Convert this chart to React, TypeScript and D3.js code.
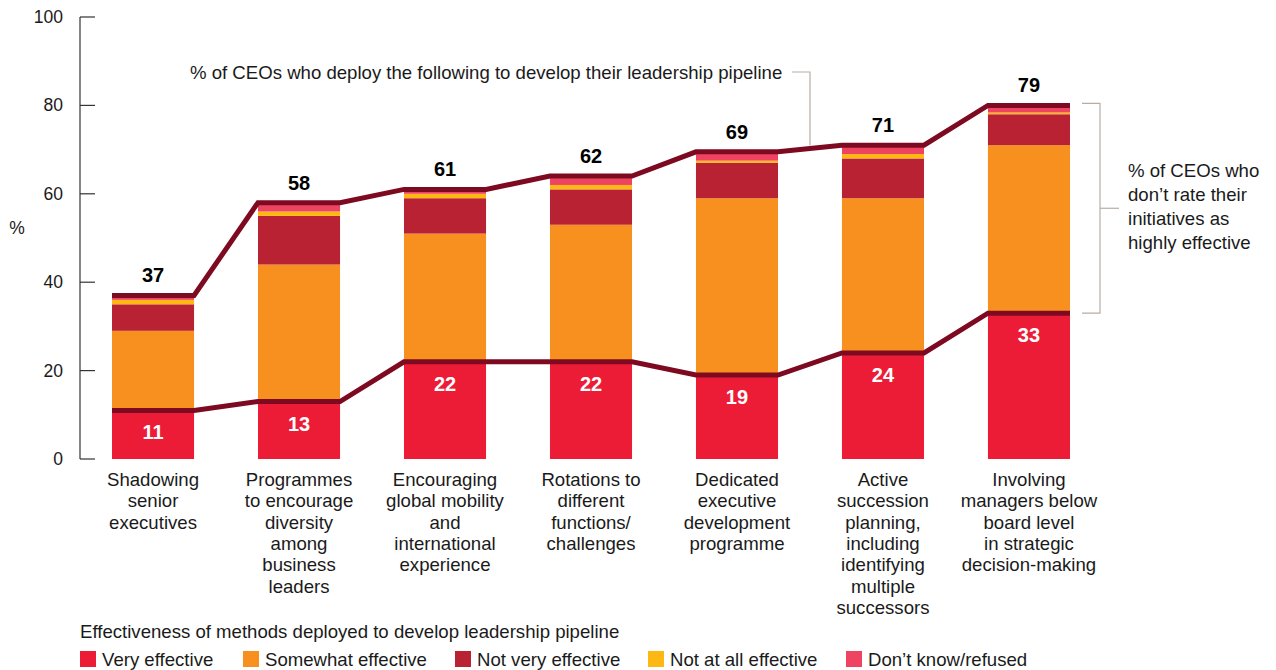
import React from "react";
import * as d3 from "d3";

const categories = [
  ["Shadowing", "senior", "executives"],
  ["Programmes", "to encourage", "diversity", "among", "business", "leaders"],
  ["Encouraging", "global mobility", "and", "international", "experience"],
  ["Rotations to", "different", "functions/", "challenges"],
  ["Dedicated", "executive", "development", "programme"],
  ["Active", "succession", "planning,", "including", "identifying", "multiple", "successors"],
  ["Involving", "managers below", "board level", "in strategic", "decision-making"],
];
const veryEffective = [11, 13, 22, 22, 19, 24, 33];
const somewhatEffective = [18, 31, 29, 31, 40, 35, 38];
const notVeryEffective = [6, 11, 8, 8, 8, 9, 7];
const notAtAllEffective = [1, 1, 1, 1, 0.5, 1, 0.4];
const dontKnow = [1, 2, 1, 2, 2, 2, 1.6];
const totalLabels = [37, 58, 61, 62, 69, 71, 79];
const yTicks = [0, 20, 40, 60, 80, 100];
const seriesKeys = ["very", "somewhat", "notVery", "notAtAll", "dontKnow"];
const seriesNames = ["Very effective", "Somewhat effective", "Not very effective", "Not at all effective", "Don\u2019t know/refused"];
const seriesColors = ["#ED1C36", "#F7901E", "#B82233", "#FDB813", "#EF4461"];

const FONT = "'Liberation Sans', Arial, Helvetica, sans-serif";
const TEXT = "#1a1a1a";
const LINE = "#7E0A21";
const GUIDE = "#B8ADA5";
const FS = 18.6;

export default function App() {
  const rows = categories.map((c, i) => ({
    i,
    very: veryEffective[i],
    somewhat: somewhatEffective[i],
    notVery: notVeryEffective[i],
    notAtAll: notAtAllEffective[i],
    dontKnow: dontKnow[i],
  }));
  const stacked = d3.stack<any>().keys(seriesKeys)(rows);
  const x = d3.scaleBand<number>().domain(d3.range(categories.length)).range([112, 1070]).paddingInner(0.438).paddingOuter(0);
  const y = d3.scaleLinear().domain([0, 100]).range([459, 17]);
  const bw = x.bandwidth();
  const tops = rows.map((_, i) => stacked[stacked.length - 1][i][1]);

  const linePts = (vals: number[]) => {
    const pts: [number, number][] = [];
    vals.forEach((v, i) => {
      pts.push([x(i)!, y(v)]);
      pts.push([x(i)! + bw, y(v)]);
    });
    return d3.line()(pts) || "";
  };

  const gx = (x(4)! + bw + x(5)!) / 2;
  const gy = (y(tops[4]) + y(tops[5])) / 2;
  const bx0 = x(6)! + bw + 12;
  const bx1 = bx0 + 18;
  const bTop = y(tops[6]) - 2;
  const bBot = y(veryEffective[6]);
  const bMid = (bTop + bBot) / 2;

  const legendX = [80, 243, 455, 648, 846];

  return (
    <>
      <style>{`body{margin:0}`}</style>
      <svg width={1276} height={670} style={{ display: "block", fontFamily: FONT }}>
        <line x1={80} x2={80} y1={y(100)} y2={y(0)} stroke="#333" strokeWidth={1.2} />
        {yTicks.map((t) => (
          <g key={t}>
            <line x1={80} x2={95} y1={y(t)} y2={y(t)} stroke="#333" strokeWidth={1.2} />
            <text x={63} y={y(t)} textAnchor="end" dominantBaseline="central" fontSize={17.5} fill={TEXT}>
              {t}
            </text>
          </g>
        ))}
        <text x={17} y={228} textAnchor="middle" dominantBaseline="central" fontSize={17.5} fill={TEXT}>%</text>

        {stacked.map((s, si) => (
          <g key={s.key} fill={seriesColors[si]}>
            {s.map((d, i) => (
              <rect key={i} x={x(i)} width={bw} y={y(d[1])} height={Math.max(0, y(d[0]) - y(d[1]))} />
            ))}
          </g>
        ))}

        <path d={linePts(veryEffective)} fill="none" stroke={LINE} strokeWidth={5} />
        <path d={linePts(tops)} fill="none" stroke={LINE} strokeWidth={5} />

        {veryEffective.map((v, i) => (
          <text key={i} x={x(i)! + bw / 2} y={y(v) + 22} textAnchor="middle" dominantBaseline="central" fontSize={20} fontWeight="bold" fill="#fff">
            {v}
          </text>
        ))}
        {totalLabels.map((v, i) => (
          <text key={i} x={x(i)! + bw / 2} y={y(tops[i]) - 20} textAnchor="middle" dominantBaseline="central" fontSize={20} fontWeight="bold" fill="#000">
            {v}
          </text>
        ))}

        {categories.map((lines, i) => (
          <text key={i} x={x(i)! + bw / 2} y={486} textAnchor="middle" fontSize={FS} fill={TEXT}>
            {lines.map((l, j) => (
              <tspan key={j} x={x(i)! + bw / 2} dy={j === 0 ? 0 : 21.3}>{l}</tspan>
            ))}
          </text>
        ))}

        <text x={190} y={72} dominantBaseline="central" fontSize={FS} fill={TEXT}>
          % of CEOs who deploy the following to develop their leadership pipeline
        </text>
        <polyline points={`${gx - 18},72 ${gx},72 ${gx},${gy - 3}`} fill="none" stroke={GUIDE} strokeWidth={1.2} />

        <polyline points={`${bx0},${bTop} ${bx1},${bTop} ${bx1},${bBot} ${bx0},${bBot}`} fill="none" stroke={GUIDE} strokeWidth={1.2} />
        <line x1={bx1} x2={bx1 + 19} y1={bMid} y2={bMid} stroke={GUIDE} strokeWidth={1.2} />
        <text x={1128} y={170} dominantBaseline="central" fontSize={FS} fill={TEXT}>
          {["% of CEOs who", "don\u2019t rate their", "initiatives as", "highly effective"].map((l, j) => (
            <tspan key={j} x={1128} dy={j === 0 ? 0 : 24}>{l}</tspan>
          ))}
        </text>

        <text x={80} y={631} dominantBaseline="central" fontSize={FS} fill={TEXT}>
          Effectiveness of methods deployed to develop leadership pipeline
        </text>
        {seriesNames.map((n, i) => (
          <g key={n}>
            <rect x={legendX[i]} y={651} width={16} height={16} fill={seriesColors[i]} />
            <text x={legendX[i] + 22} y={659} dominantBaseline="central" fontSize={FS} fill={TEXT}>{n}</text>
          </g>
        ))}
      </svg>
    </>
  );
}
